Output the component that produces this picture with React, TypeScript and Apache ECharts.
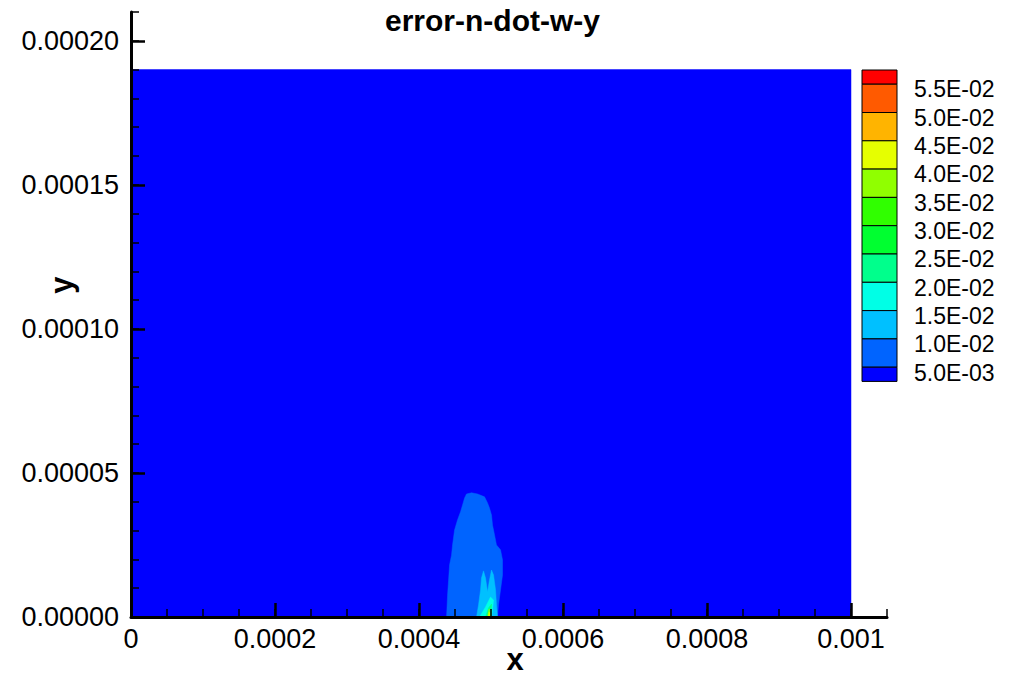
import React, { useEffect, useRef } from 'react';
import * as echarts from 'echarts';

// ---------- text / ticks ----------
const TITLE = 'error-n-dot-w-y';
const X_NAME = 'x';
const Y_NAME = 'y';
const X_RANGE = [0, 0.00105];
const Y_RANGE = [0, 0.00021];
const X_MINOR_STEP = 0.00005;
const Y_MINOR_STEP = 0.00001;
const X_TICK_VALUES = [0, 0.0002, 0.0004, 0.0006, 0.0008, 0.001];
const X_TICK_LABELS = ['0', '0.0002', '0.0004', '0.0006', '0.0008', '0.001'];
const Y_TICK_VALUES = [0, 0.00005, 0.0001, 0.00015, 0.0002];
const Y_TICK_LABELS = ['0.00000', '0.00005', '0.00010', '0.00015', '0.00020'];

// ---------- contour legend (top to bottom) ----------
const LEVEL_LABELS = [
  '5.5E-02', '5.0E-02', '4.5E-02', '4.0E-02', '3.5E-02', '3.0E-02',
  '2.5E-02', '2.0E-02', '1.5E-02', '1.0E-02', '5.0E-03',
];
// colour of each contour band, index 0 = lowest band
const LEVEL_COLORS = [
  '#0000FF', '#0064FF', '#00C0FF', '#00FFE6', '#00FF8C', '#00FF30',
  '#30FF00', '#90FF00', '#E6FF00', '#FFB400', '#FF5A00', '#FF0000',
];

// ---------- contour regions, coordinates in micrometres [x, y] ----------
const UM = 1e-6;
const DOMAIN_UM = [[0, 0], [1000, 0], [1000, 190], [0, 190]];
const BAND1_UM = [
  [438.3, 0], [439.7, 7.6], [441.1, 12.8], [442.5, 18.1], [445.2, 21.5], [446.6, 25.0],
  [449.4, 30.2], [453.5, 33.7], [457.7, 36.5], [460.5, 38.9], [463.3, 41.3], [466.0, 42.7],
  [473.0, 43.1], [481.3, 42.7], [491.0, 41.7], [495.2, 39.6], [497.9, 37.8], [500.7, 35.4],
  [502.1, 31.9], [504.9, 28.5], [507.6, 25.0], [513.2, 23.3], [516.0, 19.8], [516.0, 14.6],
  [513.2, 9.4], [510.4, 4.2], [509.0, 0],
];
const BAND2_UM = [
  [479.9, 0], [482.7, 4.2], [485.5, 9.4], [486.8, 13.5], [489.6, 16.0], [492.4, 13.5],
  [495.2, 8.7], [497.9, 12.8], [500.7, 16.3], [503.5, 14.6], [506.3, 9.4], [507.6, 4.2],
  [509.0, 0],
];
const BAND3_UM = [[484.1, 0], [492.4, 3.5], [499.3, 6.9], [503.5, 5.9], [502.1, 2.4], [500.7, 0]];
const BAND4_UM = [[492.4, 0], [496.5, 3.1], [500.7, 4.5], [500.7, 0]];
const BAND7_UM = [[495.2, 0], [497.3, 2.8], [499.3, 0]];
const BAND8_UM = [[496.6, 0], [497.4, 1.7], [498.2, 0]];

const REGIONS = [
  { level: 0, pts: DOMAIN_UM },
  { level: 1, pts: BAND1_UM },
  { level: 2, pts: BAND2_UM },
  { level: 3, pts: BAND3_UM },
  { level: 4, pts: BAND4_UM },
  { level: 7, pts: BAND7_UM },
  { level: 8, pts: BAND8_UM },
];

const FONT = '"Liberation Sans", Arial, Helvetica, sans-serif';

function buildGraphics(): any[] {
  const els: any[] = [];
  const x = 862;
  const w = 35;
  const top = 70;
  const half = 14.2;
  const full = 28.3;
  const n = LEVEL_COLORS.length;
  let y = top;
  for (let i = n - 1; i >= 0; i--) {
    const h = i === n - 1 || i === 0 ? half : full;
    els.push({
      type: 'rect',
      shape: { x, y, width: w, height: h },
      style: { fill: LEVEL_COLORS[i], stroke: '#000', lineWidth: 1 },
    });
    y += h;
  }
  LEVEL_LABELS.forEach((t, i) => {
    els.push({
      type: 'text',
      x: 914,
      y: 89.3 + i * 28.35,
      style: {
        text: t, fill: '#000', font: `23px ${FONT}`,
        align: 'left', verticalAlign: 'middle',
      },
    });
  });
  els.push({
    type: 'text',
    x: 61,
    y: 285,
    rotation: Math.PI / 2,
    style: {
      text: Y_NAME, fill: '#000', font: `bold 31px ${FONT}`,
      align: 'center', verticalAlign: 'middle',
    },
  });
  els.push({
    type: 'text',
    x: 515,
    y: 659,
    style: {
      text: X_NAME, fill: '#000', font: `bold 31px ${FONT}`,
      align: 'center', verticalAlign: 'middle',
    },
  });
  return els;
}

export default function App() {
  const ref = useRef<HTMLDivElement>(null);
  useEffect(() => {
    if (!ref.current) return;
    const chart = echarts.init(ref.current, null, { renderer: 'svg' });
    const axisLineStyle = { color: '#000', width: 3 };
    const option: any = {
      animation: false,
      backgroundColor: '#fff',
      textStyle: { fontFamily: FONT },
      title: {
        text: TITLE,
        left: 385,
        top: 5,
        padding: 0,
        textStyle: { fontSize: 30, fontWeight: 'bold', color: '#000', fontFamily: FONT },
      },
      grid: {
        left: 131, right: 128, top: 12, bottom: 60,
        containLabel: false, outerBoundsMode: 'none',
      },
      xAxis: [
        {
          type: 'value', min: X_RANGE[0], max: X_RANGE[1], interval: X_MINOR_STEP,
          position: 'bottom', z: 10,
          axisLine: { show: true, onZero: false, lineStyle: axisLineStyle },
          axisTick: { show: true, inside: true, length: 8, lineStyle: { color: '#000', width: 1.5 } },
          axisLabel: { show: false },
          splitLine: { show: false },
        },
        {
          type: 'value', min: X_RANGE[0], max: X_RANGE[1], interval: 0.0002,
          position: 'bottom', offset: 0, z: 11,
          axisLine: { show: false, onZero: false },
          axisTick: {
            show: true, inside: true, length: 14, customValues: X_TICK_VALUES,
            lineStyle: { color: '#000', width: 2.5 },
          },
          axisLabel: {
            show: true, customValues: X_TICK_VALUES, margin: 8,
            fontSize: 27, color: '#000', fontFamily: FONT,
            formatter: (v: number) => {
              const i = X_TICK_VALUES.findIndex((t) => Math.abs(t - v) < 1e-9);
              return i >= 0 ? X_TICK_LABELS[i] : '';
            },
          },
          splitLine: { show: false },
        },
      ],
      yAxis: [
        {
          type: 'value', min: Y_RANGE[0], max: Y_RANGE[1], interval: Y_MINOR_STEP,
          position: 'left', z: 10,
          axisLine: { show: true, onZero: false, lineStyle: axisLineStyle },
          axisTick: { show: true, inside: true, length: 8, lineStyle: { color: '#000', width: 1.5 } },
          axisLabel: { show: false },
          splitLine: { show: false },
        },
        {
          type: 'value', min: Y_RANGE[0], max: Y_RANGE[1], interval: 0.00005,
          position: 'left', offset: 0, z: 11,
          axisLine: { show: false, onZero: false },
          axisTick: {
            show: true, inside: true, length: 14, customValues: Y_TICK_VALUES,
            lineStyle: { color: '#000', width: 2.5 },
          },
          axisLabel: {
            show: true, customValues: Y_TICK_VALUES, margin: 12,
            fontSize: 27, color: '#000', fontFamily: FONT,
            formatter: (v: number) => {
              const i = Y_TICK_VALUES.findIndex((t) => Math.abs(t - v) < 1e-12);
              return i >= 0 ? Y_TICK_LABELS[i] : '';
            },
          },
          splitLine: { show: false },
        },
      ],
      series: [
        {
          type: 'custom',
          xAxisIndex: 0,
          yAxisIndex: 0,
          clip: true,
          z: 2,
          data: REGIONS.map((r) => [r.pts[0][0] * UM, r.pts[0][1] * UM, r.level]),
          encode: { x: 0, y: 1 },
          renderItem: (params: any, api: any) => {
            const r = REGIONS[params.dataIndex];
            const points = r.pts.map((p) => api.coord([p[0] * UM, p[1] * UM]));
            const c = LEVEL_COLORS[r.level];
            return {
              type: 'polygon',
              shape: { points },
              style: { fill: c, stroke: c, lineWidth: 0.5 },
            };
          },
        },
      ],
      graphic: buildGraphics(),
    };
    chart.setOption(option);
    return () => chart.dispose();
  }, []);
  return (
    <div
      ref={ref}
      style={{ position: 'fixed', left: 0, top: 0, width: 1015, height: 677, background: '#fff' }}
    />
  );
}
